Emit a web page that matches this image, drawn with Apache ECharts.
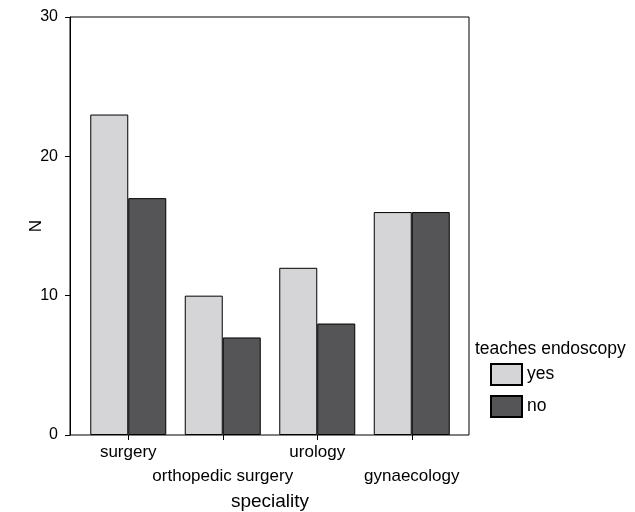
<!DOCTYPE html>
<html>
<head>
<meta charset="utf-8">
<script src="https://cdn.jsdelivr.net/npm/echarts@6/dist/echarts.min.js"></script>
<style>
  html, body { margin: 0; padding: 0; background: #fff; }
  #chart { width: 635px; height: 512px; }
</style>
</head>
<body>
<div id="chart"></div>
<script>
// 专业类别与是否教授内镜的人数
const specialities = ['surgery', 'orthopedic surgery', 'urology', 'gynaecology']
const yesCounts = [23, 10, 12, 16]
const noCounts = [17, 7, 8, 16]
const yTicks = [0, 10, 20, 30]

const chart = echarts.init(document.getElementById('chart'))
const font = '"Liberation Sans", Arial, sans-serif'

const option = {
  backgroundColor: '#fff',
  animation: false,
  textStyle: { fontFamily: font, color: '#000' },
  title: {
    text: 'teaches endoscopy',
    left: 475,
    top: 340,
    padding: 0,
    textStyle: { fontFamily: font, fontSize: 17.5, fontWeight: 'normal', color: '#000' }
  },
  legend: {
    orient: 'vertical',
    left: 490,
    top: 363,
    padding: 0,
    itemWidth: 31,
    itemHeight: 21,
    itemGap: 9,
    icon: 'rect',
    data: ['yes', 'no'],
    textStyle: { fontFamily: font, fontSize: 17.5, color: '#000' }
  },
  grid: [
    // 柱子所在区域
    { left: 81, top: 17, width: 378, height: 418, show: false, outerBoundsMode: 'none', containLabel: false },
    // 外框
    { left: 70, top: 17, width: 399, height: 418, show: true, borderColor: '#000', borderWidth: 1, outerBoundsMode: 'none', containLabel: false }
  ],
  xAxis: [
    {
      gridIndex: 0,
      type: 'category',
      data: specialities,
      axisLine: { show: false },
      axisTick: { show: true, alignWithLabel: true, length: 5, lineStyle: { color: '#000' } },
      axisLabel: {
        interval: 0,
        margin: 5,
        fontSize: 17,
        lineHeight: 24,
        color: '#000',
        fontFamily: font,
        formatter: (v, i) => (i % 2 === 1 ? '\n' + v : v)
      },
      name: 'speciality',
      nameLocation: 'middle',
      nameGap: 57,
      nameMoveOverlap: false,
      nameTextStyle: { fontSize: 19, color: '#000', fontFamily: font }
    },
    { gridIndex: 1, type: 'value', show: false }
  ],
  yAxis: [
    { gridIndex: 0, type: 'value', min: 0, max: 30, show: false },
    {
      gridIndex: 1,
      type: 'value',
      min: yTicks[0],
      max: yTicks[yTicks.length - 1],
      interval: 10,
      axisLine: { show: true, lineStyle: { color: '#000', width: 1 } },
      axisTick: { show: true, length: 5, lineStyle: { color: '#000' } },
      axisLabel: { margin: 12, fontSize: 16, color: '#000', fontFamily: font },
      splitLine: { show: false },
      name: 'N',
      nameLocation: 'middle',
      nameGap: 25,
      nameMoveOverlap: false,
      nameTextStyle: { fontSize: 17, color: '#000', fontFamily: font }
    }
  ],
  series: [
    {
      name: 'yes',
      type: 'bar',
      xAxisIndex: 0,
      yAxisIndex: 0,
      data: yesCounts,
      barWidth: 38,
      barGap: '0%',
      itemStyle: { color: '#d5d5d7', borderColor: '#000', borderWidth: 1 }
    },
    {
      name: 'no',
      type: 'bar',
      xAxisIndex: 0,
      yAxisIndex: 0,
      data: noCounts,
      barWidth: 38,
      barGap: '0%',
      itemStyle: { color: '#555557', borderColor: '#000', borderWidth: 1 }
    }
  ]
}

chart.setOption(option)
</script>
</body>
</html>
